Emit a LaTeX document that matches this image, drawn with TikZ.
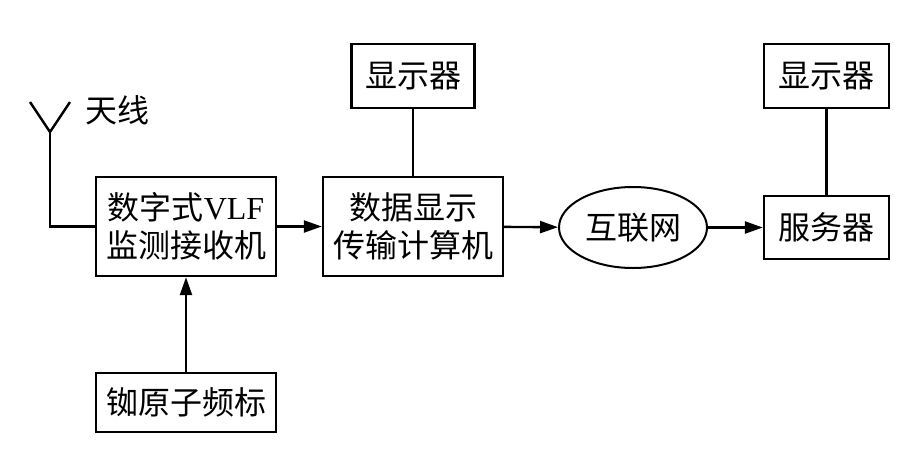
\documentclass[tikz,border=0pt]{standalone}
\usepackage{fontspec}
\setmainfont{Liberation Serif}
\newfontfamily\cjk{Noto Sans CJK SC}
\usetikzlibrary{shapes.geometric,arrows.meta}
\tikzset{
  block/.style={draw, line width=2.4pt, align=center, inner sep=0pt, font=\cjk\fontsize{32}{38}\selectfont},
  pfeil/.style={line width=2.4pt, -{Triangle[length=18pt,width=12pt]}}
}
\begin{document}
\begin{tikzpicture}[x=1pt,y=-1pt]
		\useasboundingbox (0,0) rectangle (916,464);
		\node [block, minimum width=180pt, minimum height=99pt] (empf) at (186,226.5) {数字式{\rmfamily VLF}\\监测接收机};
		\node [block, minimum width=180pt, minimum height=99pt] (rechner) at (413,226.5) {数据显示\\传输计算机};
		\node [block, minimum width=123pt, minimum height=64pt] (anz1) at (413,76) {显示器};
		\node [block, ellipse, line width=2pt, minimum width=148pt, minimum height=81pt] (netz) at (633,227.5) {互联网};
		\node [block, minimum width=125pt, minimum height=63pt] (server) at (826.5,227.5) {服务器};
		\node [block, minimum width=125pt, minimum height=64pt] (anz2) at (826.5,76) {显示器};
		\node [block, minimum width=180pt, minimum height=59pt] (normal) at (186,402.5) {铷原子频标};
		% Antenne
		\coordinate (ant) at (50,132);
		\draw [line width=2.4pt] (30,102) -- (ant) -- (70,102);
		\draw [line width=2.4pt] (ant) |- (empf.west);
		\node [font=\cjk\fontsize{32}{38}\selectfont] (antlabel) at (117,110) {天线};
		% Verbindungen
		\draw [pfeil] (empf) -- (rechner);
		\draw [pfeil] (rechner) -- (netz);
		\draw [pfeil] (netz) -- (server);
		\draw [pfeil] (normal) -- (empf);
		\draw [line width=2.4pt] (anz1) -- (rechner);
		\draw [line width=2.4pt] (anz2) -- (server);
\end{tikzpicture}
\end{document}
